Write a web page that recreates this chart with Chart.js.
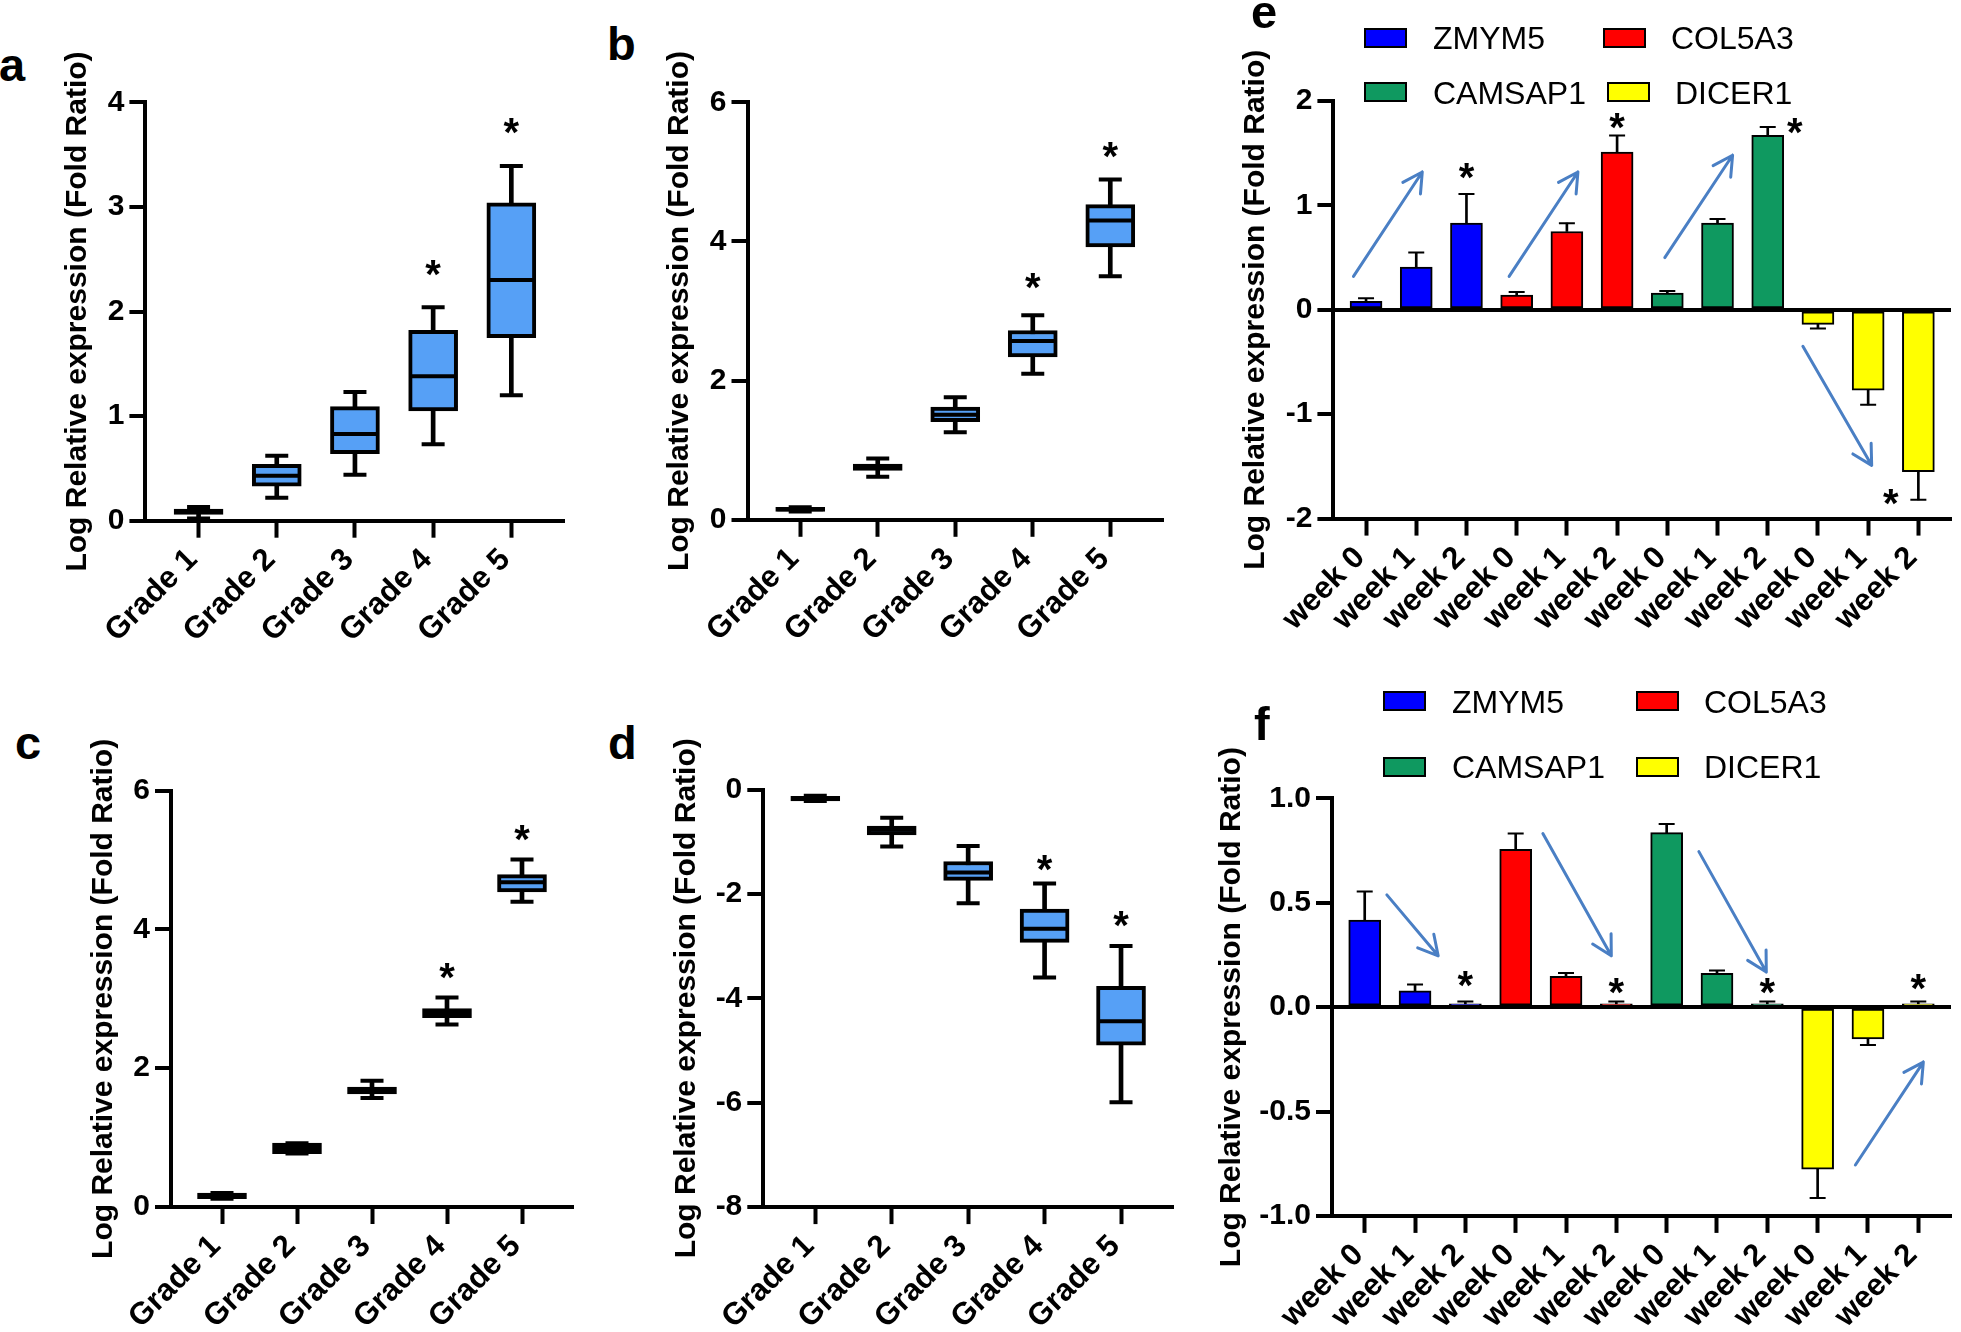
<!DOCTYPE html>
<html>
<head>
<meta charset="utf-8">
<script src="https://cdn.jsdelivr.net/npm/chart.js@4.4.1/dist/chart.umd.min.js"></script>
<style>
  html, body { margin: 0; padding: 0; background: #fff; }
  body { position: relative; width: 1961px; height: 1332px; overflow: hidden; font-family: 'Liberation Sans', Arial, sans-serif; }
  .tag { position: absolute; font-weight: bold; font-size: 47px; line-height: 1; color: #000; }
  canvas { position: absolute; }
  .key { position: absolute; width: 39px; height: 16px; border: 2px solid #000; }
  .keytxt { position: absolute; font-size: 32px; line-height: 1; color: #000; white-space: nowrap; }
</style>
</head>
<body>
<canvas id="ca"></canvas>
<canvas id="cb"></canvas>
<canvas id="cc"></canvas>
<canvas id="cd"></canvas>
<canvas id="ce"></canvas>
<canvas id="cf"></canvas>
<div class="tag" style="left:-1px;top:41px">a</div>
<div class="tag" style="left:607px;top:20px">b</div>
<div class="tag" style="left:15px;top:719px">c</div>
<div class="tag" style="left:608px;top:719px">d</div>
<div class="tag" style="left:1251px;top:-12px">e</div>
<div class="tag" style="left:1254px;top:700px">f</div>
<div id="keys"></div>
<script>
  'use strict'

  const FONT = "'Liberation Sans', Arial, sans-serif"
  const BOX_FILL = '#56a0f6'
  const ARROW_COLOR = '#4a7fc4'
  const Y_TITLE = 'Log Relative expression (Fold Ratio)'
  const TITLE_SIZE = 30

  // categories
  const grades = ['Grade 1', 'Grade 2', 'Grade 3', 'Grade 4', 'Grade 5']
  const weeks = ['week 0', 'week 1', 'week 2', 'week 0', 'week 1', 'week 2',
    'week 0', 'week 1', 'week 2', 'week 0', 'week 1', 'week 2']
  const genes = ['ZMYM5', 'COL5A3', 'CAMSAP1', 'DICER1']
  const geneColors = ['#0000ff', '#ff0000', '#0f9960', '#ffff00']

  // panel a: box plot stats per grade
  const aMin = [0.02, 0.22, 0.44, 0.73, 1.20]
  const aQ1 = [0.06, 0.33, 0.64, 1.05, 1.75]
  const aMed = [0.09, 0.43, 0.83, 1.38, 2.30]
  const aQ3 = [0.11, 0.54, 1.09, 1.82, 3.04]
  const aMax = [0.13, 0.62, 1.23, 2.04, 3.39]
  const aStarX = [3, 4]
  const aStarY = [2.42, 3.77]

  // panel b
  const bMin = [0.12, 0.62, 1.26, 2.10, 3.50]
  const bQ1 = [0.12, 0.71, 1.41, 2.34, 3.92]
  const bMed = [0.15, 0.76, 1.51, 2.57, 4.30]
  const bQ3 = [0.18, 0.80, 1.62, 2.72, 4.53]
  const bMax = [0.18, 0.88, 1.76, 2.94, 4.89]
  const bStarX = [3, 4]
  const bStarY = [3.43, 5.32]

  // panel c
  const cMin = [0.12, 0.77, 1.57, 2.63, 4.40]
  const cQ1 = [0.12, 0.77, 1.63, 2.73, 4.54]
  const cMed = [0.16, 0.85, 1.68, 2.80, 4.68]
  const cQ3 = [0.20, 0.92, 1.73, 2.86, 4.79]
  const cMax = [0.20, 0.92, 1.82, 3.02, 5.01]
  const cStarX = [3, 4]
  const cStarY = [3.40, 5.39]

  // panel d
  const dMin = [-0.22, -1.09, -2.18, -3.60, -5.99]
  const dQ1 = [-0.22, -0.87, -1.74, -2.93, -4.90]
  const dMed = [-0.17, -0.77, -1.59, -2.67, -4.44]
  const dQ3 = [-0.13, -0.70, -1.38, -2.29, -3.77]
  const dMax = [-0.12, -0.54, -1.08, -1.80, -3.00]
  const dStarX = [3, 4]
  const dStarY = [-1.41, -2.48]

  // panel e: mean per week and error size, one list per gene
  const eZmym5 = [0.08, 0.41, 0.83]
  const eCol5a3 = [0.14, 0.75, 1.51]
  const eCamsap1 = [0.16, 0.83, 1.67]
  const eDicer1 = [-0.14, -0.77, -1.55]
  const eZmym5Err = [0.03, 0.14, 0.28]
  const eCol5a3Err = [0.03, 0.08, 0.16]
  const eCamsap1Err = [0.02, 0.04, 0.08]
  const eDicer1Err = [0.04, 0.14, 0.27]
  const eStarX = [2, 5, 8.54, 10.45]
  const eStarY = [1.33, 1.81, 1.76, -1.79]
  // arrows: [fromX, fromY, toX, toY] in data units
  const eArrows = [[-0.25, 0.32, 1.12, 1.32], [2.85, 0.32, 4.22, 1.32],
    [5.95, 0.50, 7.30, 1.48], [8.70, -0.35, 10.07, -1.49]]

  // panel f
  const fZmym5 = [0.417, 0.078, 0.016]
  const fCol5a3 = [0.756, 0.148, 0.016]
  const fCamsap1 = [0.836, 0.162, 0.016]
  const fDicer1 = [-0.776, -0.152, 0.016]
  const fZmym5Err = [0.137, 0.031, 0.011]
  const fCol5a3Err = [0.076, 0.016, 0.011]
  const fCamsap1Err = [0.041, 0.013, 0.011]
  const fDicer1Err = [0.138, 0.029, 0.011]
  const fStarX = [2, 5, 8, 11]
  const fStarY = [0.133, 0.103, 0.099, 0.119]
  const fArrows = [[0.44, 0.538, 1.46, 0.246], [3.54, 0.832, 4.90, 0.246],
    [6.64, 0.745, 7.98, 0.168], [9.75, -0.756, 11.10, -0.263]]

  // asterisks and arrows, placed through the chart scales
  const notesPlugin = {
    id: 'notes',
    afterDatasetsDraw(chart, args, opts) {
      const ctx = chart.ctx
      const xs = chart.scales.x
      const ys = chart.scales.y
      ctx.save()
      ctx.strokeStyle = ARROW_COLOR
      ctx.lineWidth = 3
      ctx.lineCap = 'round'
      ;(opts.arrows || []).forEach(a => {
        const x0 = xs.getPixelForValue(a[0])
        const y0 = ys.getPixelForValue(a[1])
        const x1 = xs.getPixelForValue(a[2])
        const y1 = ys.getPixelForValue(a[3])
        const ang = Math.atan2(y1 - y0, x1 - x0)
        ctx.beginPath()
        ctx.moveTo(x0, y0)
        ctx.lineTo(x1, y1)
        ;[-0.5, 0.5].forEach(d => {
          ctx.moveTo(x1, y1)
          ctx.lineTo(x1 - 22 * Math.cos(ang + d), y1 - 22 * Math.sin(ang + d))
        })
        ctx.stroke()
      })
      ctx.fillStyle = '#000'
      ctx.font = 'bold 40px ' + FONT
      ctx.textAlign = 'center'
      ctx.textBaseline = 'alphabetic'
      const m = ctx.measureText('*')
      const shift = (m.actualBoundingBoxAscent - m.actualBoundingBoxDescent) / 2
      ;(opts.starX || []).forEach((sx, i) => {
        ctx.fillText('*', xs.getPixelForValue(sx), ys.getPixelForValue(opts.starY[i]) + shift)
      })
      ctx.restore()
    }
  }

  function boxDatasets(mins, q1s, meds, q3s, maxs) {
    const xs = mins.map((_, i) => i)
    return [
      { type: 'bar', data: xs.map(i => ({ x: i, y: [mins[i], maxs[i]] })), backgroundColor: '#000',
        borderWidth: 0, barThickness: 4, grouped: false, order: 3 },
      { type: 'bar', data: xs.map(i => ({ x: i, y: [q1s[i], q3s[i]] })), backgroundColor: BOX_FILL,
        borderColor: '#000', borderWidth: 4, borderSkipped: false, barThickness: 49, grouped: false, order: 2 },
      { type: 'scatter', data: xs.map(i => ({ x: i, y: meds[i] })), pointStyle: 'line', pointRadius: 23,
        pointBorderWidth: 4, pointBorderColor: '#000', order: 1 },
      { type: 'scatter', data: xs.flatMap(i => [{ x: i, y: mins[i] }, { x: i, y: maxs[i] }]), pointStyle: 'line',
        pointRadius: 11.5, pointBorderWidth: 4, pointBorderColor: '#000', order: 1 }
    ]
  }

  function geneDatasets(vals, errs) {
    const out = []
    genes.forEach((g, k) => {
      const xs = [0, 1, 2].map(j => k * 3 + j)
      const ends = vals[k].map((v, j) => v + (v < 0 ? -1 : 1) * errs[k][j])
      out.push({ type: 'bar', label: g, data: xs.map((x, j) => ({ x, y: vals[k][j] })),
        backgroundColor: geneColors[k], borderColor: '#000', borderWidth: 2, borderSkipped: false,
        barThickness: 32, grouped: false, order: 2 })
      out.push({ type: 'bar', data: xs.map((x, j) => ({ x, y: [vals[k][j], ends[j]] })),
        backgroundColor: '#000', borderWidth: 0, barThickness: 2, grouped: false, order: 3 })
      out.push({ type: 'scatter', data: xs.map((x, j) => ({ x, y: ends[j] })), pointStyle: 'line',
        pointRadius: 8, pointBorderWidth: 2, pointBorderColor: '#000', order: 1 })
    })
    return out
  }

  // box: title centre x, canvas top / right / bottom, and wanted plot area (left, top, right, bottom)
  function makeChart(id, box, datasets, labels, xPad, yOpts, notes) {
    const cv = document.getElementById(id)
    const cx = Math.round(box.titleX - TITLE_SIZE * 0.6)
    cv.style.left = cx + 'px'
    cv.style.top = box.y + 'px'
    cv.width = box.edge - cx
    cv.height = box.foot - box.y
    const xFont = { family: FONT, size: 31, weight: 'bold' }
    const yFont = { family: FONT, size: 30, weight: 'bold' }
    return new Chart(cv, {
      type: 'bar',
      data: { datasets },
      options: {
        responsive: false,
        animation: false,
        events: [],
        devicePixelRatio: 1,
        layout: { padding: { left: 0, top: box.top - box.y, right: box.edge - box.right, bottom: 0 } },
        plugins: { legend: { display: false }, tooltip: { enabled: false }, notes },
        scales: {
          x: {
            type: 'linear',
            offset: false,
            min: -xPad,
            max: labels.length - 1 + xPad,
            afterBuildTicks: ax => { ax.ticks = labels.map((_, i) => ({ value: i })) },
            afterFit: ax => { ax.height = box.foot - box.bottom },
            grid: { offset: false, drawOnChartArea: false, drawTicks: true, tickLength: 17, tickWidth: 4,
              tickColor: '#000', color: '#000' },
            border: { display: true, color: '#000', width: 4 },
            ticks: { autoSkip: false, minRotation: 45, maxRotation: 45, padding: 4, labelOffset: -6,
              color: '#000', font: xFont, callback: v => labels[v] }
          },
          y: {
            min: yOpts.min,
            max: yOpts.max,
            afterFit: ax => { ax.width = box.left - cx },
            grid: {
              drawOnChartArea: !!yOpts.zeroLine,
              color: c => (yOpts.zeroLine && c.tick && c.tick.value === 0) ? '#000' : 'rgba(0,0,0,0)',
              lineWidth: 4, drawTicks: true, tickLength: 16, tickWidth: 4, tickColor: '#000'
            },
            border: { display: true, color: '#000', width: 4 },
            title: { display: true, text: Y_TITLE, color: '#000', padding: 0,
              font: { family: FONT, size: TITLE_SIZE, weight: 'bold' } },
            ticks: { stepSize: yOpts.step, padding: 5, color: '#000', font: yFont,
              callback: yOpts.fmt || (v => String(v)) }
          }
        }
      },
      plugins: [notesPlugin]
    })
  }

  makeChart('ca', { titleX: 78.4, y: 30, edge: 600, foot: 660, left: 145.4, top: 102.3, right: 564.5, bottom: 520.7 },
    boxDatasets(aMin, aQ1, aMed, aQ3, aMax), grades, 0.68,
    { min: 0, max: 4, step: 1 }, { starX: aStarX, starY: aStarY })

  makeChart('cb', { titleX: 679.9, y: 30, edge: 1190, foot: 660, left: 747.5, top: 102.3, right: 1165.4, bottom: 519.8 },
    boxDatasets(bMin, bQ1, bMed, bQ3, bMax), grades, 0.68,
    { min: 0, max: 6, step: 2 }, { starX: bStarX, starY: bStarY })

  makeChart('cc', { titleX: 104, y: 715, edge: 600, foot: 1332, left: 171, top: 790.7, right: 590, bottom: 1207 },
    boxDatasets(cMin, cQ1, cMed, cQ3, cMax), grades, 0.68,
    { min: 0, max: 6, step: 2 }, { starX: cStarX, starY: cStarY })

  makeChart('cd', { titleX: 687, y: 715, edge: 1200, foot: 1332, left: 763.3, top: 789.5, right: 1182.4, bottom: 1207.1 },
    boxDatasets(dMin, dQ1, dMed, dQ3, dMax), grades, 0.68,
    { min: -8, max: 0, step: 2 }, { starX: dStarX, starY: dStarY })

  makeChart('ce', { titleX: 1256.4, y: 30, edge: 1961, foot: 660, left: 1333.4, top: 101, right: 1957.6, bottom: 518.6 },
    geneDatasets([eZmym5, eCol5a3, eCamsap1, eDicer1], [eZmym5Err, eCol5a3Err, eCamsap1Err, eDicer1Err]),
    weeks, 0.65, { min: -2, max: 2, step: 1, zeroLine: true },
    { starX: eStarX, starY: eStarY, arrows: eArrows })

  makeChart('cf', { titleX: 1231.8, y: 700, edge: 1961, foot: 1332, left: 1332, top: 798.4, right: 1957.6, bottom: 1215.9 },
    geneDatasets([fZmym5, fCol5a3, fCamsap1, fDicer1], [fZmym5Err, fCol5a3Err, fCamsap1Err, fDicer1Err]),
    weeks, 0.65, { min: -1, max: 1, step: 0.5, zeroLine: true, fmt: v => v.toFixed(1) },
    { starX: fStarX, starY: fStarY, arrows: fArrows })

  // html legends (2 x 2) for panels e and f
  const keySpots = [
    // [boxLeft, boxTop, textLeft, textTop] for each gene
    [[1364, 28, 1433, 22], [1603, 28, 1671, 22], [1364, 82, 1433, 77], [1607, 82, 1675, 77]],
    [[1383, 691, 1452, 686], [1636, 691, 1704, 686], [1383, 757, 1452, 751], [1636, 757, 1704, 751]]
  ]
  const keys = document.getElementById('keys')
  keySpots.forEach(spots => {
    spots.forEach((s, k) => {
      const sw = document.createElement('div')
      sw.className = 'key'
      sw.style.left = s[0] + 'px'
      sw.style.top = s[1] + 'px'
      sw.style.background = geneColors[k]
      keys.appendChild(sw)
      const tx = document.createElement('div')
      tx.className = 'keytxt'
      tx.style.left = s[2] + 'px'
      tx.style.top = s[3] + 'px'
      tx.textContent = genes[k]
      keys.appendChild(tx)
    })
  })
</script>
</body>
</html>
